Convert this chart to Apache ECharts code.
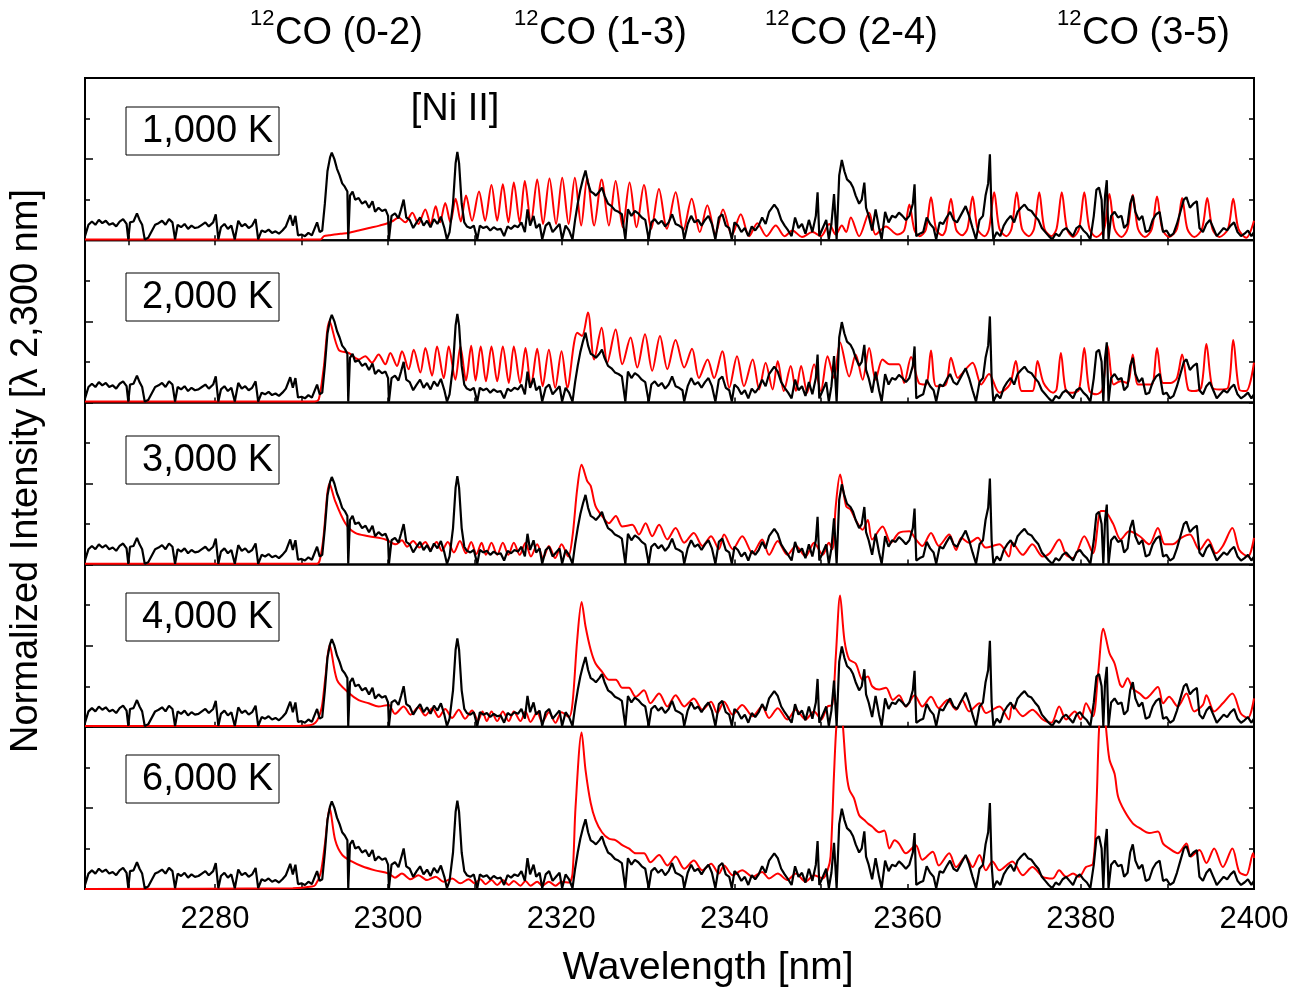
<!DOCTYPE html>
<html>
<head>
<meta charset="utf-8">
<title>CO bandhead spectra</title>
<script src="https://cdn.jsdelivr.net/npm/echarts@6/dist/echarts.min.js"></script>
<style>
  html, body { margin: 0; padding: 0; background: #fff; }
  #chart { width: 1305px; height: 992px; }
</style>
</head>
<body>
<div id="chart"></div>
<script>
// observed spectrum, [wavelength nm, normalized intensity] (same in every panel)
var observed = [
  [2265.0,0.05],[2265.4,0.19],[2265.8,0.23],[2266.2,0.19],[2266.6,0.25],[2267.0,0.21],[2267.4,0.24],[2267.8,0.19],
  [2268.2,0.21],[2268.6,0.17],[2269.0,0.23],[2269.4,0.26],[2269.8,0.20],[2270.0,0.01],[2270.2,0.22],[2270.6,0.23],
  [2271.0,0.33],[2271.3,0.25],[2271.6,0.19],[2271.9,0.01],[2272.3,0.03],[2272.7,0.11],[2273.1,0.19],[2273.5,0.21],
  [2273.9,0.24],[2274.3,0.19],[2274.7,0.26],[2275.1,0.22],[2275.4,0.01],[2275.7,0.19],[2276.1,0.16],[2276.5,0.20],
  [2276.9,0.14],[2277.3,0.18],[2277.7,0.15],[2278.1,0.16],[2278.5,0.19],[2278.9,0.22],[2279.3,0.17],[2279.8,0.22],
  [2280.1,0.32],[2280.4,0.01],[2280.7,0.16],[2281.1,0.20],[2281.5,0.14],[2281.9,0.18],[2282.3,0.01],[2282.7,0.24],
  [2283.1,0.17],[2283.5,0.20],[2283.9,0.15],[2284.3,0.18],[2284.7,0.26],[2285.0,0.01],[2285.4,0.12],[2285.8,0.10],
  [2286.2,0.13],[2286.6,0.09],[2287.0,0.11],[2287.4,0.08],[2287.8,0.12],[2288.2,0.17],[2288.7,0.31],[2289.0,0.18],
  [2289.3,0.30],[2289.6,0.06],[2290.0,0.07],[2290.4,0.05],[2290.8,0.09],[2291.2,0.06],[2291.5,0.14],[2291.8,0.22],
  [2292.1,0.10],[2292.4,0.12],[2292.7,0.45],[2293.0,0.85],[2293.3,1.02],[2293.5,1.08],[2293.8,1.00],[2294.1,0.88],
  [2294.4,0.80],[2294.7,0.70],[2295.0,0.66],[2295.3,0.60],[2295.4,0.01],[2295.6,0.55],[2295.9,0.60],[2296.2,0.50],
  [2296.6,0.52],[2297.0,0.45],[2297.4,0.48],[2297.8,0.40],[2298.2,0.48],[2298.5,0.35],[2298.9,0.40],[2299.3,0.36],
  [2299.7,0.38],[2300.0,0.30],[2300.1,0.01],[2300.4,0.30],[2300.8,0.33],[2301.2,0.27],[2301.5,0.38],[2301.8,0.50],
  [2302.1,0.28],[2302.5,0.25],[2302.9,0.15],[2303.3,0.22],[2303.7,0.28],[2304.1,0.18],[2304.5,0.24],[2304.9,0.16],
  [2305.3,0.26],[2305.7,0.20],[2306.1,0.29],[2306.5,0.15],[2306.8,0.01],[2307.1,0.10],[2307.5,0.45],[2307.8,0.95],
  [2308.0,1.09],[2308.2,0.95],[2308.5,0.45],[2308.8,0.22],[2309.1,0.17],[2309.5,0.15],[2309.9,0.18],[2310.3,0.01],
  [2310.6,0.18],[2311.0,0.15],[2311.4,0.17],[2311.8,0.12],[2312.2,0.16],[2312.6,0.13],[2313.0,0.14],[2313.4,0.05],
  [2313.8,0.17],[2314.2,0.14],[2314.6,0.18],[2315.0,0.16],[2315.4,0.22],[2315.8,0.10],[2316.1,0.38],[2316.4,0.18],
  [2316.8,0.30],[2317.1,0.15],[2317.5,0.20],[2317.8,0.01],[2318.2,0.18],[2318.6,0.22],[2319.0,0.10],[2319.4,0.15],
  [2319.8,0.20],[2320.1,0.01],[2320.5,0.18],[2320.9,0.12],[2321.3,0.01],[2321.6,0.25],[2321.9,0.45],[2322.2,0.62],
  [2322.5,0.75],[2322.8,0.86],[2323.1,0.70],[2323.4,0.60],[2323.7,0.58],[2324.0,0.55],[2324.4,0.60],[2324.7,0.65],
  [2325.0,0.55],[2325.4,0.45],[2325.8,0.42],[2326.2,0.37],[2326.6,0.35],[2327.0,0.32],[2327.4,0.01],[2327.7,0.38],
  [2328.1,0.30],[2328.5,0.36],[2328.9,0.33],[2329.3,0.28],[2329.7,0.25],[2330.1,0.01],[2330.4,0.22],[2330.8,0.26],
  [2331.2,0.20],[2331.6,0.24],[2332.0,0.17],[2332.4,0.22],[2332.8,0.32],[2333.2,0.20],[2333.6,0.18],[2334.0,0.15],
  [2334.2,0.01],[2334.6,0.20],[2335.0,0.30],[2335.4,0.22],[2335.8,0.25],[2336.2,0.18],[2336.6,0.25],[2337.0,0.30],
  [2337.4,0.20],[2337.8,0.01],[2338.2,0.28],[2338.6,0.32],[2339.0,0.18],[2339.4,0.15],[2339.7,0.01],[2340.0,0.22],
  [2340.4,0.18],[2340.8,0.10],[2341.2,0.15],[2341.6,0.05],[2342.0,0.17],[2342.4,0.12],[2342.8,0.18],[2343.2,0.28],
  [2343.6,0.20],[2344.0,0.35],[2344.6,0.44],[2345.0,0.38],[2345.4,0.25],[2345.8,0.18],[2346.2,0.12],[2346.6,0.05],
  [2347.0,0.28],[2347.4,0.15],[2347.8,0.20],[2348.2,0.08],[2348.6,0.25],[2349.0,0.10],[2349.4,0.30],[2349.6,0.59],
  [2349.8,0.05],[2350.2,0.15],[2350.6,0.25],[2350.9,0.01],[2351.2,0.20],[2351.5,0.57],[2351.8,0.01],[2352.1,0.80],
  [2352.4,0.99],[2352.7,0.85],[2353.0,0.75],[2353.4,0.71],[2353.7,0.65],[2354.0,0.55],[2354.4,0.45],[2354.7,0.50],
  [2355.0,0.71],[2355.2,0.40],[2355.5,0.30],[2355.9,0.12],[2356.3,0.38],[2356.7,0.15],[2357.0,0.01],[2357.4,0.35],
  [2357.8,0.22],[2358.2,0.30],[2358.6,0.28],[2359.0,0.34],[2359.4,0.30],[2359.8,0.25],[2360.2,0.30],[2360.6,0.45],
  [2360.8,0.69],[2361.0,0.05],[2361.4,0.08],[2361.8,0.10],[2362.2,0.28],[2362.6,0.20],[2363.0,0.15],[2363.3,0.01],
  [2363.7,0.22],[2364.1,0.20],[2364.5,0.28],[2364.9,0.35],[2365.3,0.25],[2365.7,0.22],[2366.1,0.30],[2366.7,0.42],
  [2367.1,0.30],[2367.5,0.15],[2367.9,0.01],[2368.3,0.25],[2368.7,0.30],[2369.0,0.55],[2369.3,0.70],[2369.5,1.06],
  [2369.7,0.30],[2369.9,0.01],[2370.3,0.10],[2370.7,0.05],[2371.1,0.18],[2371.5,0.25],[2371.9,0.30],[2372.3,0.22],
  [2372.7,0.35],[2373.1,0.40],[2373.5,0.44],[2373.9,0.38],[2374.3,0.36],[2374.7,0.30],[2375.1,0.25],[2375.5,0.15],
  [2375.9,0.10],[2376.3,0.05],[2376.7,0.01],[2377.1,0.08],[2377.5,0.05],[2377.9,0.12],[2378.3,0.15],[2378.7,0.10],
  [2379.1,0.05],[2379.5,0.15],[2379.9,0.18],[2380.3,0.12],[2380.7,0.08],[2381.1,0.01],[2381.5,0.30],[2381.8,0.62],
  [2382.1,0.65],[2382.4,0.50],[2382.6,0.01],[2382.8,0.55],[2383.0,0.74],[2383.2,0.01],[2383.5,0.30],[2383.9,0.35],
  [2384.3,0.28],[2384.7,0.30],[2385.0,0.15],[2385.4,0.20],[2385.7,0.45],[2386.0,0.55],[2386.3,0.35],[2386.7,0.25],
  [2387.1,0.30],[2387.5,0.10],[2387.9,0.12],[2388.3,0.25],[2388.7,0.32],[2389.1,0.35],[2389.5,0.10],[2389.9,0.12],
  [2390.3,0.05],[2390.7,0.08],[2391.1,0.20],[2391.5,0.35],[2391.9,0.50],[2392.2,0.53],[2392.6,0.40],[2393.0,0.45],
  [2393.4,0.48],[2393.7,0.15],[2394.1,0.10],[2394.5,0.20],[2394.9,0.25],[2395.3,0.15],[2395.7,0.05],[2396.1,0.10],
  [2396.5,0.15],[2396.9,0.12],[2397.3,0.18],[2397.7,0.22],[2398.1,0.10],[2398.5,0.05],[2398.9,0.08],[2399.3,0.12],
  [2399.7,0.05],[2400.0,0.10]
];

// model spectra, one per temperature
var model1000 = [
  [2265,0.01],[2292.2,0.01],[2292.6,0.05],[2293.2,0.06],[2294.5,0.08],[2295.4,0.09],[2296.6,0.12],[2297.8,0.15],
  [2299.0,0.18],[2299.7,0.20],[2300.6,0.24],[2301.2,0.28],[2302.0,0.22],[2302.8,0.34],[2303.5,0.20],[2304.3,0.38],
  [2304.9,0.20],[2305.5,0.42],[2306.0,0.22],[2306.6,0.46],[2307.2,0.22],[2307.8,0.51],[2308.4,0.23],[2309.0,0.55],
  [2309.7,0.24],[2310.5,0.60],[2311.2,0.24],[2311.94,0.68],[2312.6,0.24],[2313.25,0.69],[2313.9,0.22],[2314.52,0.71],
  [2315.2,0.22],[2315.79,0.73],[2316.5,0.22],[2317.22,0.75],[2317.9,0.20],[2318.64,0.76],[2319.4,0.20],[2320.11,0.77],
  [2320.85,0.20],[2321.57,0.77],[2322.3,0.18],[2323.0,0.77],[2323.8,0.18],[2324.66,0.75],[2325.5,0.18],[2326.28,0.73],
  [2327.1,0.16],[2327.89,0.71],[2328.7,0.16],[2329.55,0.68],[2330.4,0.14],[2331.28,0.63],[2332.2,0.14],[2333.21,0.59],
  [2334.1,0.12],[2335.06,0.51],[2336.0,0.10],[2336.87,0.43],[2337.8,0.08],[2338.68,0.38],[2339.7,0.06],[2340.73,0.32],
  [2341.7,0.05],[2342.65,0.21],[2343.7,0.05],[2344.77,0.18],[2345.8,0.05],[2346.7,0.12],[2347.8,0.04],[2349.0,0.10],
  [2350.0,0.05],[2350.94,0.20],[2351.7,0.07],[2352.4,0.18],[2352.9,0.10],[2353.44,0.28],[2354.4,0.05],[2355.56,0.34],
  [2356.3,0.07],[2357.5,0.17],[2358.8,0.07],[2359.6,0.12],[2360.2,0.44],[2360.8,0.12],[2361.4,0.05],[2362.1,0.13],
  [2362.7,0.53],[2363.3,0.13],[2364.0,0.06],[2364.4,0.13],[2365.0,0.51],[2365.6,0.13],[2366.3,0.06],[2366.9,0.14],
  [2367.5,0.54],[2368.1,0.13],[2368.9,0.05],[2369.4,0.14],[2370.0,0.59],[2370.6,0.14],[2371.4,0.05],[2372.0,0.14],
  [2372.6,0.59],[2373.2,0.14],[2374.0,0.05],[2374.6,0.14],[2375.2,0.59],[2375.8,0.14],[2376.6,0.05],[2377.2,0.14],
  [2377.8,0.59],[2378.4,0.14],[2379.1,0.04],[2379.8,0.14],[2380.4,0.59],[2381.0,0.14],[2381.8,0.04],[2382.7,0.14],
  [2383.3,0.57],[2383.9,0.14],[2384.7,0.04],[2385.4,0.14],[2386.0,0.56],[2386.6,0.14],[2387.4,0.04],[2388.2,0.14],
  [2388.8,0.54],[2389.4,0.14],[2390.2,0.04],[2391.1,0.14],[2391.7,0.52],[2392.3,0.14],[2393.1,0.04],[2394.0,0.14],
  [2394.6,0.52],[2395.2,0.14],[2396.0,0.04],[2397.0,0.14],[2397.6,0.51],[2398.2,0.14],[2399.1,0.03],[2400,0.24]
];
var model2000 = [
  [2265,0.01],[2291.5,0.01],[2292.0,0.04],[2292.55,0.41],[2293.25,1.0],[2294.29,0.65],[2295.44,0.61],[2296.6,0.53],
  [2297.37,0.57],[2298.14,0.49],[2298.91,0.59],[2299.68,0.47],[2300.26,0.61],[2301.03,0.45],[2301.61,0.63],[2302.38,0.41],
  [2302.96,0.65],[2303.73,0.37],[2304.31,0.67],[2305.08,0.33],[2305.65,0.69],[2306.43,0.30],[2307.0,0.69],[2307.77,0.28],
  [2308.35,0.69],[2309.0,0.27],[2309.6,0.70],[2310.1,0.27],[2310.7,0.69],[2311.3,0.26],[2311.94,0.69],[2312.6,0.26],
  [2313.25,0.69],[2313.94,0.24],[2314.52,0.69],[2315.25,0.24],[2315.87,0.67],[2316.5,0.20],[2317.22,0.66],[2317.85,0.20],
  [2318.57,0.65],[2319.3,0.18],[2320.03,0.63],[2320.7,0.18],[2321.46,0.72],[2321.84,0.86],[2322.4,0.82],[2323.08,1.11],
  [2323.8,0.53],[2324.66,0.92],[2325.31,0.49],[2326.28,0.90],[2327.05,0.47],[2328.0,0.80],[2328.78,0.43],[2329.67,0.84],
  [2330.5,0.39],[2331.4,0.82],[2332.25,0.41],[2333.2,0.77],[2334.2,0.43],[2335.1,0.66],[2335.9,0.30],[2336.9,0.53],
  [2337.65,0.30],[2338.6,0.63],[2339.4,0.18],[2340.3,0.57],[2341.1,0.20],[2342.1,0.53],[2342.85,0.16],[2343.6,0.49],
  [2344.4,0.16],[2345.0,0.51],[2345.7,0.14],[2346.5,0.45],[2347.1,0.14],[2347.7,0.45],[2348.4,0.12],[2349.2,0.47],
  [2349.97,0.14],[2350.75,0.57],[2351.5,0.30],[2352.2,0.74],[2353.25,0.32],[2354.0,0.59],[2354.8,0.28],[2355.56,0.67],
  [2356.3,0.28],[2357.1,0.53],[2357.9,0.47],[2359.0,0.47],[2359.6,0.24],[2360.4,0.56],[2361.3,0.24],[2362.1,0.22],
  [2362.7,0.64],[2363.3,0.20],[2364.4,0.22],[2365.0,0.55],[2365.8,0.30],[2366.4,0.37],[2367.5,0.49],[2368.5,0.22],
  [2369.4,0.35],[2370.6,0.12],[2371.8,0.22],[2372.5,0.51],[2373.2,0.14],[2374.4,0.14],[2375.0,0.51],[2375.7,0.24],
  [2376.8,0.12],[2377.2,0.16],[2377.7,0.61],[2378.3,0.14],[2379.1,0.12],[2379.8,0.16],[2380.4,0.67],[2381.0,0.14],
  [2381.8,0.10],[2382.5,0.16],[2383.1,0.70],[2383.8,0.22],[2384.6,0.26],[2385.4,0.24],[2386.0,0.59],[2386.6,0.22],
  [2387.4,0.22],[2388.2,0.22],[2388.8,0.67],[2389.5,0.24],[2390.4,0.24],[2391.1,0.30],[2391.7,0.59],[2392.4,0.16],
  [2393.1,0.14],[2393.9,0.18],[2394.5,0.72],[2395.2,0.18],[2396.0,0.16],[2397.0,0.18],[2397.6,0.77],[2398.3,0.16],
  [2399.1,0.14],[2400,0.49]
];
var model3000 = [
  [2265,0.01],[2291.8,0.01],[2292.1,0.05],[2292.5,0.30],[2293.25,1.0],[2293.9,0.78],[2295.06,0.51],[2296.2,0.39],
  [2297.76,0.35],[2299.7,0.31],[2300.9,0.25],[2301.6,0.30],[2302.2,0.22],[2302.9,0.29],[2303.6,0.21],[2304.3,0.28],
  [2304.9,0.19],[2305.6,0.28],[2306.2,0.17],[2306.9,0.28],[2307.6,0.15],[2308.3,0.29],[2309.0,0.14],[2309.6,0.28],
  [2310.2,0.13],[2310.8,0.27],[2311.3,0.12],[2311.94,0.27],[2312.6,0.12],[2313.25,0.27],[2313.9,0.12],[2314.52,0.27],
  [2315.2,0.12],[2315.87,0.27],[2316.5,0.10],[2317.22,0.25],[2317.9,0.08],[2318.57,0.23],[2319.3,0.08],[2320.03,0.25],
  [2320.8,0.10],[2321.3,0.35],[2321.84,0.93],[2322.35,1.23],[2323.0,1.03],[2323.4,0.97],[2323.96,0.72],[2324.7,0.60],
  [2325.5,0.51],[2326.3,0.60],[2327.05,0.47],[2328.2,0.49],[2328.97,0.37],[2329.74,0.51],[2330.5,0.35],[2331.3,0.49],
  [2332.25,0.31],[2333.2,0.45],[2334.2,0.27],[2335.3,0.39],[2336.3,0.23],[2337.3,0.35],[2338.2,0.19],[2338.8,0.37],
  [2339.8,0.19],[2340.9,0.35],[2342.1,0.14],[2343.2,0.31],[2344.0,0.12],[2345.0,0.29],[2346.1,0.12],[2347.1,0.23],
  [2348.2,0.10],[2349.2,0.27],[2350.2,0.12],[2350.9,0.27],[2351.3,0.19],[2351.7,0.72],[2352.2,1.11],[2352.9,0.72],
  [2353.4,0.68],[2354.0,0.55],[2354.8,0.43],[2355.4,0.55],[2355.9,0.31],[2357.1,0.47],[2358.06,0.27],[2359.0,0.39],
  [2360.2,0.41],[2360.95,0.31],[2361.7,0.23],[2362.7,0.39],[2363.6,0.23],[2364.8,0.37],[2365.6,0.18],[2366.2,0.33],
  [2367.1,0.27],[2368.1,0.33],[2369.0,0.21],[2370.6,0.25],[2371.7,0.10],[2372.1,0.27],[2373.3,0.12],[2374.4,0.25],
  [2375.6,0.10],[2376.4,0.14],[2377.5,0.31],[2378.3,0.12],[2379.1,0.08],[2380.4,0.35],[2381.4,0.14],[2382.3,0.66],
  [2382.7,0.66],[2383.7,0.51],[2384.6,0.31],[2385.6,0.41],[2386.8,0.35],[2387.9,0.25],[2388.9,0.45],[2389.7,0.25],
  [2390.6,0.25],[2391.6,0.33],[2392.6,0.37],[2393.7,0.18],[2394.7,0.31],[2395.6,0.14],[2396.4,0.23],[2397.5,0.45],
  [2398.3,0.18],[2399.3,0.10],[2400,0.33]
];
var model4000 = [
  [2265,0.01],[2289,0.01],[2291.0,0.02],[2291.6,0.05],[2292.0,0.12],[2292.36,0.25],[2292.75,0.60],[2293.25,1.01],
  [2294.1,0.58],[2295.44,0.42],[2296.6,0.33],[2297.76,0.29],[2298.9,0.25],[2300.07,0.27],[2300.8,0.16],[2301.8,0.25],
  [2302.6,0.15],[2303.5,0.24],[2304.3,0.14],[2305.1,0.23],[2305.85,0.12],[2306.6,0.22],[2307.4,0.11],[2308.16,0.21],
  [2308.9,0.10],[2309.7,0.20],[2310.4,0.08],[2310.9,0.19],[2311.4,0.07],[2311.94,0.19],[2312.6,0.07],[2313.25,0.19],
  [2313.94,0.07],[2314.52,0.19],[2315.29,0.07],[2315.87,0.19],[2316.45,0.06],[2317.22,0.18],[2317.8,0.06],[2318.57,0.18],
  [2319.34,0.05],[2320.03,0.18],[2320.9,0.12],[2321.3,0.29],[2321.84,1.07],[2322.35,1.54],[2322.8,1.24],[2323.4,0.95],
  [2323.96,0.78],[2324.7,0.68],[2325.5,0.58],[2326.3,0.58],[2327.05,0.48],[2327.8,0.48],[2328.6,0.37],[2329.55,0.45],
  [2330.3,0.29],[2331.3,0.41],[2332.25,0.25],[2333.2,0.39],[2334.2,0.25],[2335.3,0.35],[2336.3,0.21],[2337.3,0.31],
  [2338.0,0.17],[2338.8,0.31],[2339.8,0.15],[2340.9,0.27],[2342.1,0.13],[2343.2,0.25],[2344.0,0.11],[2345.0,0.23],
  [2346.1,0.09],[2347.1,0.21],[2348.2,0.09],[2349.2,0.19],[2350.0,0.09],[2350.75,0.25],[2351.3,0.27],[2351.7,0.86],
  [2352.2,1.62],[2352.7,1.07],[2353.25,0.83],[2354.0,0.78],[2354.8,0.58],[2355.4,0.62],[2355.9,0.50],[2356.7,0.46],
  [2357.5,0.48],[2358.3,0.33],[2359.0,0.39],[2359.8,0.25],[2360.8,0.39],[2361.7,0.25],[2362.7,0.37],[2363.6,0.23],
  [2364.6,0.33],[2365.6,0.21],[2366.3,0.33],[2367.1,0.19],[2368.3,0.29],[2369.04,0.17],[2370.6,0.25],[2371.7,0.09],
  [2372.1,0.27],[2373.3,0.13],[2374.4,0.21],[2375.6,0.09],[2376.6,0.05],[2377.5,0.25],[2378.3,0.09],[2379.3,0.19],
  [2380.0,0.09],[2380.6,0.29],[2381.4,0.13],[2382.0,0.66],[2382.6,1.21],[2383.3,0.91],[2383.9,0.78],[2384.5,0.53],
  [2384.8,0.49],[2385.4,0.60],[2386.0,0.47],[2386.8,0.41],[2387.5,0.35],[2388.9,0.49],[2389.5,0.29],[2390.2,0.37],
  [2391.2,0.25],[2392.2,0.41],[2393.1,0.19],[2394.1,0.27],[2394.5,0.39],[2395.4,0.19],[2396.4,0.29],[2397.5,0.41],
  [2398.5,0.16],[2399.3,0.11],[2400,0.35]
];
var model6000 = [
  [2265,0.0],[2289,0.01],[2291.2,0.03],[2291.6,0.05],[2292.2,0.19],[2292.7,0.55],[2293.25,1.0],[2293.9,0.60],
  [2294.7,0.42],[2295.8,0.34],[2297.0,0.28],[2298.5,0.23],[2300.07,0.19],[2300.8,0.14],[2301.6,0.19],[2302.6,0.12],
  [2303.5,0.17],[2304.5,0.11],[2305.5,0.15],[2306.4,0.09],[2307.4,0.13],[2308.35,0.07],[2309.3,0.12],[2310.0,0.07],
  [2310.67,0.12],[2311.25,0.06],[2311.94,0.11],[2312.6,0.05],[2313.25,0.11],[2313.94,0.05],[2314.52,0.10],[2315.29,0.04],
  [2315.87,0.10],[2316.45,0.04],[2317.22,0.09],[2317.8,0.04],[2318.57,0.09],[2319.34,0.04],[2320.03,0.09],[2320.9,0.08],
  [2321.3,0.19],[2321.65,1.01],[2322.35,1.93],[2322.8,1.47],[2323.4,1.06],[2323.96,0.85],[2324.7,0.70],[2325.5,0.62],
  [2326.3,0.60],[2327.05,0.54],[2327.8,0.50],[2328.6,0.44],[2329.55,0.44],[2330.3,0.33],[2331.3,0.42],[2332.25,0.29],
  [2333.2,0.40],[2334.2,0.25],[2335.3,0.35],[2336.3,0.23],[2337.3,0.31],[2338.2,0.19],[2338.8,0.29],[2339.8,0.17],
  [2340.9,0.23],[2342.1,0.15],[2343.2,0.21],[2344.0,0.13],[2345.0,0.19],[2346.1,0.11],[2347.1,0.19],[2348.2,0.09],
  [2349.2,0.17],[2350.2,0.13],[2350.75,0.23],[2351.1,0.40],[2351.5,1.42],[2351.8,2.05],[2352.2,2.35],[2352.5,2.05],
  [2352.9,1.47],[2353.25,1.23],[2353.8,1.12],[2354.4,0.91],[2355.0,0.85],[2355.5,0.80],[2355.9,0.77],[2356.7,0.70],
  [2357.3,0.72],[2357.9,0.50],[2358.5,0.60],[2359.0,0.56],[2359.8,0.44],[2360.95,0.54],[2361.7,0.36],[2362.9,0.46],
  [2363.6,0.29],[2364.8,0.44],[2365.6,0.27],[2366.7,0.40],[2367.5,0.27],[2368.3,0.42],[2369.04,0.23],[2369.8,0.34],
  [2370.6,0.23],[2372.1,0.34],[2373.3,0.17],[2374.4,0.27],[2375.6,0.15],[2376.75,0.13],[2377.5,0.23],[2378.3,0.15],
  [2379.1,0.19],[2379.8,0.15],[2380.6,0.27],[2381.4,0.31],[2381.8,1.01],[2382.1,1.96],[2382.5,2.45],[2382.9,2.0],
  [2383.3,1.60],[2383.9,1.42],[2384.3,1.14],[2385.0,0.97],[2386.0,0.81],[2386.8,0.75],[2387.9,0.69],[2388.9,0.71],
  [2389.5,0.56],[2390.2,0.50],[2391.2,0.44],[2392.2,0.56],[2392.7,0.40],[2393.7,0.48],[2394.5,0.32],[2395.4,0.50],
  [2396.4,0.27],[2397.5,0.50],[2398.3,0.21],[2399.1,0.17],[2399.9,0.44],[2400,0.38]
];

var models = [model1000, model2000, model3000, model4000, model6000];
var temperatures = ['1,000 K', '2,000 K', '3,000 K', '4,000 K', '6,000 K'];
var bandNames = ['CO (0-2)', 'CO (1-3)', 'CO (2-4)', 'CO (3-5)'];
var xTickValues = [2270, 2280, 2290, 2300, 2310, 2320, 2330, 2340, 2350, 2360, 2370, 2380, 2390];
var xLabelValues = [2280, 2300, 2320, 2340, 2360, 2380, 2400];

(function () {
  var FONT = '"Liberation Sans", Arial, sans-serif';
  var chart = echarts.init(document.getElementById('chart'));

  var panelH = 162.2;
  var grids = [], xAxes = [], yAxes = [], series = [], graphics = [];
  var boxTops = [107, 273, 436, 593, 755];

  for (var i = 0; i < 5; i++) {
    var panelTop = 78 + i * panelH;
    grids.push({
      left: 85, width: 1169, top: panelTop, height: panelH,
      show: true, borderColor: '#000', borderWidth: 2, backgroundColor: 'transparent'
    });
    xAxes.push({
      type: 'value', gridIndex: i, min: 2265, max: 2400,
      axisLine: { show: false },
      axisTick: { show: true, inside: true, length: 5, customValues: xTickValues,
        lineStyle: { color: '#000', width: 1.5 } },
      axisLabel: { show: i === 4, customValues: xLabelValues, color: '#000',
        fontSize: 31, fontFamily: FONT, margin: 15,
        formatter: function (v) { return String(v); } },
      splitLine: { show: false }
    });
    [0, 1].forEach(function (side) {
      yAxes.push({
        type: 'value', gridIndex: i, min: 0, max: 2, interval: 1,
        position: side ? 'right' : 'left',
        axisLine: { show: false },
        axisTick: { show: true, inside: true, length: side ? 5 : 8, lineStyle: { color: '#000', width: 1.5 } },
        minorTick: { show: true, splitNumber: 2, length: 5, lineStyle: { color: '#000', width: 1.5 } },
        axisLabel: { show: false },
        splitLine: { show: false }
      });
    });
    series.push({
      type: 'line', xAxisIndex: i, yAxisIndex: 2 * i, data: models[i],
      smooth: 0.3, symbol: 'none', clip: true, z: 3,
      lineStyle: { color: '#ff0000', width: 2 }
    });
    series.push({
      type: 'line', xAxisIndex: i, yAxisIndex: 2 * i, data: observed,
      symbol: 'none', clip: true, z: 4,
      lineStyle: { color: '#000000', width: 2.2 }
    });
    graphics.push({
      type: 'rect', shape: { x: 126, y: boxTops[i], width: 153, height: 48 },
      style: { fill: '#fff', stroke: '#000', lineWidth: 1 }, z: 10
    });
    graphics.push({
      type: 'text', x: 273, y: boxTops[i] + 25, z: 11,
      style: { text: temperatures[i], fontSize: 38, fontFamily: FONT, fill: '#000',
        align: 'right', verticalAlign: 'middle' }
    });
  }

  // top ticks of the first panel
  xAxes.push({
    type: 'value', gridIndex: 0, position: 'top', min: 2265, max: 2400,
    axisLine: { show: false },
    axisTick: { show: true, inside: true, length: 5, customValues: xTickValues,
      lineStyle: { color: '#000', width: 1.5 } },
    axisLabel: { show: false },
    splitLine: { show: false }
  });

  // band headers above the plot
  var headerX = [250, 514, 765, 1057];
  bandNames.forEach(function (name, k) {
    graphics.push({
      type: 'text', x: headerX[k], y: 19,
      style: { text: '12', fontSize: 22, fontFamily: FONT, fill: '#000', align: 'left', verticalAlign: 'middle' }
    });
    graphics.push({
      type: 'text', x: headerX[k] + 25, y: 34,
      style: { text: name, fontSize: 38, fontFamily: FONT, fill: '#000', align: 'left', verticalAlign: 'middle' }
    });
  });

  graphics.push({
    type: 'text', x: 455, y: 110,
    style: { text: '[Ni II]', fontSize: 38, fontFamily: FONT, fill: '#000', align: 'center', verticalAlign: 'middle' }
  });
  graphics.push({
    type: 'text', x: 708, y: 968,
    style: { text: 'Wavelength [nm]', fontSize: 39, fontFamily: FONT, fill: '#000', align: 'center', verticalAlign: 'middle' }
  });
  graphics.push({
    type: 'text', x: 27, y: 471, rotation: Math.PI / 2,
    style: { text: 'Normalized Intensity [λ 2,300 nm]', fontSize: 38, fontFamily: FONT, fill: '#000',
      align: 'center', verticalAlign: 'middle' }
  });

  chart.setOption({
    animation: false,
    backgroundColor: '#fff',
    grid: grids,
    xAxis: xAxes,
    yAxis: yAxes,
    series: series,
    graphic: { elements: graphics }
  });
})();
</script>
</body>
</html>
